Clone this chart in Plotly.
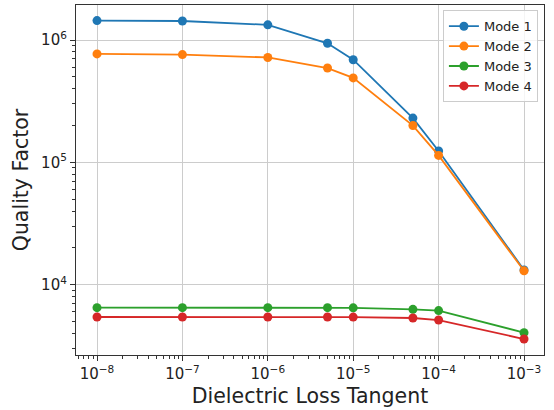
import plotly.graph_objects as go

# Dielectric loss tangent sweep
loss_tangent = [1e-8, 1e-7, 1e-6, 5e-6, 1e-5, 5e-5, 1e-4, 1e-3]

# Quality factor of each mode
mode1 = [1.44e6, 1.43e6, 1.33e6, 9.4e5, 6.9e5, 2.3e5, 1.24e5, 1.32e4]
mode2 = [7.7e5, 7.6e5, 7.2e5, 5.9e5, 4.9e5, 2.0e5, 1.14e5, 1.30e4]
mode3 = [6.5e3, 6.5e3, 6.5e3, 6.5e3, 6.48e3, 6.3e3, 6.15e3, 4.06e3]
mode4 = [5.45e3, 5.45e3, 5.45e3, 5.45e3, 5.44e3, 5.35e3, 5.15e3, 3.6e3]

series_names = ["Mode 1", "Mode 2", "Mode 3", "Mode 4"]
series_colors = ["#1f77b4", "#ff7f0e", "#2ca02c", "#d62728"]

x_tickvals = [1e-8, 1e-7, 1e-6, 1e-5, 1e-4, 1e-3]
x_ticktext = ["10<sup>\u22128</sup>", "10<sup>\u22127</sup>", "10<sup>\u22126</sup>",
              "10<sup>\u22125</sup>", "10<sup>\u22124</sup>", "10<sup>\u22123</sup>"]
y_tickvals = [1e4, 1e5, 1e6]
y_ticktext = ["10<sup>4</sup>", "10<sup>5</sup>", "10<sup>6</sup>"]

fig = go.Figure()
for name, color, vals in zip(series_names, series_colors, [mode1, mode2, mode3, mode4]):
    fig.add_trace(go.Scatter(
        x=loss_tangent, y=vals, name=name, mode="lines+markers",
        line=dict(color=color, width=1.8),
        marker=dict(color=color, size=9),
    ))

axis_common = dict(
    type="log",
    showline=True, linecolor="#333333", linewidth=1.2, mirror=True,
    showgrid=True, gridcolor="#cccccc", gridwidth=1,
    ticks="outside", ticklen=5, tickcolor="#333333", tickwidth=1,
    zeroline=False,
    tickfont=dict(family="DejaVu Sans", size=15, color="#222222"),
    minor=dict(ticks="outside", ticklen=3, tickcolor="#333333", tickwidth=0.8,
               dtick="D1", showgrid=False),
)

fig.update_layout(
    width=554, height=410,
    margin=dict(l=76, r=10, t=5, b=55),
    paper_bgcolor="white", plot_bgcolor="white",
    font=dict(family="DejaVu Sans", color="#222222"),
    xaxis=dict(axis_common, range=[-8.246, -2.766],
               tickmode="array", tickvals=x_tickvals, ticktext=x_ticktext,
               title=dict(text="Dielectric Loss Tangent", font=dict(size=20.5), standoff=6)),
    yaxis=dict(axis_common, range=[3.426, 6.286],
               tickmode="array", tickvals=y_tickvals, ticktext=y_ticktext,
               title=dict(text="Quality Factor", font=dict(size=20.5), standoff=6)),
    legend=dict(
        x=0.987, y=0.985, xanchor="right", yanchor="top",
        bgcolor="rgba(255,255,255,0.8)", bordercolor="#cccccc", borderwidth=1,
        font=dict(family="DejaVu Sans", size=13, color="#222222"),
        itemwidth=30, tracegroupgap=0,
    ),
    showlegend=True,
)

fig.write_html("out.html")
